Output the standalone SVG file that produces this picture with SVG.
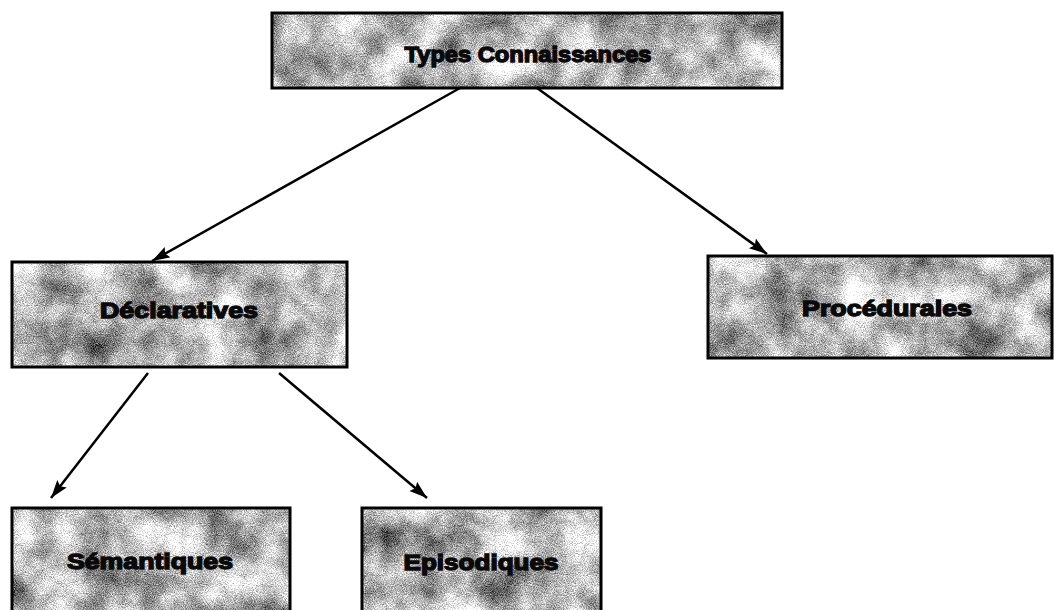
<svg xmlns="http://www.w3.org/2000/svg" width="1054" height="610" viewBox="0 0 1054 610">
  <style>
    .tex { fill: #b0b0b0; filter: url(#tex); }
    .frame { fill: none; stroke: #000; stroke-width: 3; }
    .lbl { font-family: "Liberation Sans", Arial, sans-serif; font-weight: bold; font-size: 22px; fill: #0a0a0a; stroke: #0a0a0a; stroke-width: 1.4; text-anchor: middle; }
    .edge { stroke: #000; stroke-width: 2.5; fill: none; marker-end: url(#arr); }
  </style>
  <defs>
    <filter id="tex" x="0" y="0" width="1" height="1" color-interpolation-filters="sRGB">
      <feTurbulence type="fractalNoise" baseFrequency="0.025" numOctaves="4" seed="3" result="c0"/>
      <feColorMatrix in="c0" type="matrix" values="1 0 0 0 0  1 0 0 0 0  1 0 0 0 0  0 0 0 0 1" result="c"/>
      <feTurbulence type="fractalNoise" baseFrequency="0.9" numOctaves="2" seed="7" result="g0"/>
      <feColorMatrix in="g0" type="matrix" values="1 0 0 0 0  1 0 0 0 0  1 0 0 0 0  0 0 0 0 1" result="g"/>
      <feComposite in="c" in2="g" operator="arithmetic" k1="0" k2="0.9" k3="0.8" k4="-0.35" result="m"/>
      <feColorMatrix in="m" type="matrix" values="1.25 0 0 0 0.08  1.25 0 0 0 0.08  1.25 0 0 0 0.08  0 0 0 0 1" result="gray"/>
      <feComposite in="gray" in2="SourceAlpha" operator="in"/>
    </filter>
    <marker id="arr" markerUnits="userSpaceOnUse" markerWidth="20" markerHeight="14" refX="18" refY="6" orient="auto">
      <path d="M0,0 L18,6 L0,12 L3,6 Z" fill="#000"/>
    </marker>
  </defs>

  <g id="connectors">
    <line class="edge" x1="460" y1="88" x2="152" y2="261"/>
    <line class="edge" x1="537" y1="88" x2="767" y2="254"/>
    <line class="edge" x1="148" y1="373" x2="51" y2="498"/>
    <line class="edge" x1="279" y1="373" x2="427" y2="498"/>
  </g>

  <g id="node-types">
    <rect class="tex" x="272" y="13" width="510" height="75"/>
    <rect class="frame" x="272" y="13" width="510" height="75"/>
    <text class="lbl" x="528" y="62" textLength="247" lengthAdjust="spacingAndGlyphs">Types Connaissances</text>
  </g>

  <g id="node-declaratives">
    <rect class="tex" x="12" y="262" width="335" height="105"/>
    <rect class="frame" x="12" y="262" width="335" height="105"/>
    <text class="lbl" x="179" y="318" textLength="158" lengthAdjust="spacingAndGlyphs">Déclaratives</text>
  </g>

  <g id="node-procedurales">
    <rect class="tex" x="708" y="256" width="344" height="102"/>
    <rect class="frame" x="708" y="256" width="344" height="102"/>
    <text class="lbl" x="887" y="316" textLength="170" lengthAdjust="spacingAndGlyphs">Procédurales</text>
  </g>

  <g id="node-semantiques">
    <rect class="tex" x="12" y="508" width="278" height="110"/>
    <rect class="frame" x="12" y="508" width="278" height="110"/>
    <text class="lbl" x="150" y="569" textLength="166" lengthAdjust="spacingAndGlyphs">Sémantiques</text>
  </g>

  <g id="node-episodiques">
    <rect class="tex" x="362" y="508" width="239" height="110"/>
    <rect class="frame" x="362" y="508" width="239" height="110"/>
    <text class="lbl" x="481" y="570" textLength="155" lengthAdjust="spacingAndGlyphs">Episodiques</text>
  </g>
</svg>
